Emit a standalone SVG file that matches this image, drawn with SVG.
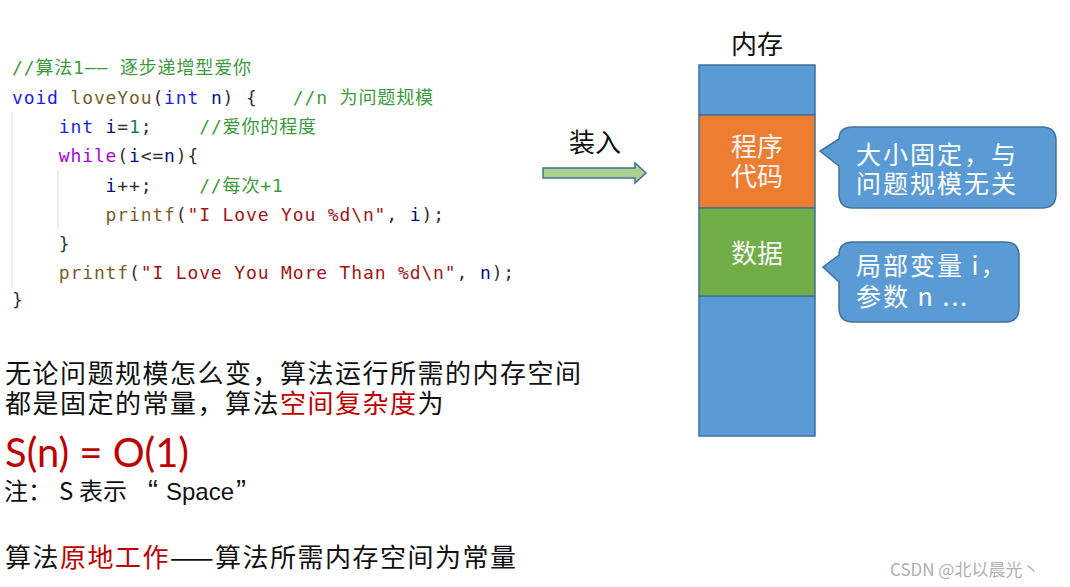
<svg xmlns="http://www.w3.org/2000/svg" width="1070" height="587" viewBox="0 0 1070 587">
<style>
.code{font-family:"DejaVu Sans Mono","Noto Sans CJK SC",monospace;font-size:18px;letter-spacing:0.86px;fill:#333333}
.cm{fill:#3b9b3b}.kw{fill:#1a1aff}.fn{fill:#795e26}.var{fill:#001080}.num{fill:#098658}.str{fill:#a31515}.ctl{fill:#af00db}
.guide{stroke:#e3e3e3;stroke-width:1.2}
.cn{font-family:"Noto Sans CJK SC",sans-serif}
.body{font-family:"Noto Sans CJK SC",sans-serif;font-size:26px;letter-spacing:1.5px;fill:#111}
.red{fill:#c00000}
.box{stroke:#41719C;stroke-width:1.5}
.wt{font-family:"Noto Sans CJK SC",sans-serif;font-size:26px;fill:#f4f4f4;text-anchor:middle}
.ct{font-family:"Noto Sans CJK SC",sans-serif;font-size:25px;letter-spacing:2px;fill:#ffffff}
.note{font-family:"Noto Sans CJK SC",sans-serif;font-size:24px;fill:#111}
</style>
<rect width="1070" height="587" fill="#ffffff"/>

<g id="code">
<line class="guide" x1="12" y1="112" x2="12" y2="288"/>
<line class="guide" x1="58" y1="170" x2="58" y2="229"/>
<text class="code" x="12" y="74" xml:space="preserve"><tspan class="cm">//算法1—— 逐步递增型爱你</tspan></text>
<text class="code" x="12" y="104" xml:space="preserve"><tspan class="kw">void</tspan> <tspan class="fn">loveYou</tspan>(<tspan class="kw">int</tspan> <tspan class="var">n</tspan>) {   <tspan class="cm">//n 为问题规模</tspan></text>
<text class="code" x="12" y="133" xml:space="preserve">    <tspan class="kw">int</tspan> <tspan class="var">i</tspan>=<tspan class="num">1</tspan>;    <tspan class="cm">//爱你的程度</tspan></text>
<text class="code" x="12" y="162" xml:space="preserve">    <tspan class="ctl">while</tspan>(<tspan class="var">i</tspan>&lt;=<tspan class="var">n</tspan>){</text>
<text class="code" x="12" y="192" xml:space="preserve">        <tspan class="var">i</tspan>++;    <tspan class="cm">//每次+1</tspan></text>
<text class="code" x="12" y="221" xml:space="preserve">        <tspan class="fn">printf</tspan>(<tspan class="str">"I Love You %d\n"</tspan>, <tspan class="var">i</tspan>);</text>
<text class="code" x="12" y="250" xml:space="preserve">    }</text>
<text class="code" x="12" y="279" xml:space="preserve">    <tspan class="fn">printf</tspan>(<tspan class="str">"I Love You More Than %d\n"</tspan>, <tspan class="var">n</tspan>);</text>
<text class="code" x="12" y="306" xml:space="preserve">}</text>
</g>

<g id="explanation">
<text class="body" x="5" y="383">无论问题规模怎么变，算法运行所需的内存空间</text>
<text class="body" x="5" y="413">都是固定的常量，算法<tspan class="red">空间复杂度</tspan>为</text>
<text x="5" y="467" font-family="Lato,'Open Sans',sans-serif" font-size="40" fill="#c00000" textLength="184" lengthAdjust="spacingAndGlyphs">S(n) = O(1)</text>
<text class="note" y="500"><tspan x="4">注：</tspan><tspan x="59">S</tspan><tspan x="79">表示</tspan><tspan x="148" font-family="'Liberation Sans',sans-serif" font-size="30">“</tspan><tspan x="166" font-family="'Liberation Sans',sans-serif">Space</tspan><tspan x="236" font-family="'Liberation Sans',sans-serif" font-size="30">”</tspan></text>
<text class="body" x="5" y="567">算法<tspan class="red">原地工作</tspan>——算法所需内存空间为常量</text>
</g>

<g id="connectors">
<path d="M543,168 H635 V163 L646,173 L635,183 V178 H543 Z" fill="#A9D18E" stroke="#41719C" stroke-width="1.5"/>
<text x="595" y="152" class="cn" font-size="26" fill="#111" text-anchor="middle">装入</text>
</g>

<g id="memory">
<text x="757" y="54" class="cn" font-size="26" fill="#111" text-anchor="middle">内存</text>
<rect class="box" x="699" y="65" width="116" height="50" fill="#5B9BD5"/>
<rect class="box" x="699" y="296" width="116" height="140" fill="#5B9BD5"/>
</g>

<g id="code-segment">
<rect class="box" x="699" y="115" width="116" height="93" fill="#ED7D31"/>
<text class="wt" x="757" y="156">程序</text>
<text class="wt" x="757" y="186">代码</text>
</g>

<g id="data-segment">
<rect class="box" x="699" y="208" width="116" height="88" fill="#70AD47"/>
<text class="wt" x="757" y="263">数据</text>
</g>

<g id="callout-code">
<path class="box" fill="#5B9BD5" d="M853,127 H1042 Q1056,127 1056,141 V194 Q1056,208 1042,208 H853 Q839,208 839,194 V166 L820,151 L839,139 Q839,127 853,127 Z"/>
<text class="ct" x="856" y="164">大小固定，与</text>
<text class="ct" x="856" y="193">问题规模无关</text>
</g>

<g id="callout-data">
<path class="box" fill="#5B9BD5" d="M853,242 H1005 Q1019,242 1019,256 V308 Q1019,322 1005,322 H853 Q839,322 839,308 V282 L823,267 L839,255 Q839,242 853,242 Z"/>
<text class="ct" x="856" y="275" letter-spacing="1">局部变量 i，</text>
<text class="ct" x="856" y="306" letter-spacing="1">参数 n ...</text>
</g>

<text x="890" y="576" font-family="'Noto Sans CJK SC',sans-serif" font-size="17" fill="#b0b0b0">CSDN @北以晨光丶</text>
</svg>
